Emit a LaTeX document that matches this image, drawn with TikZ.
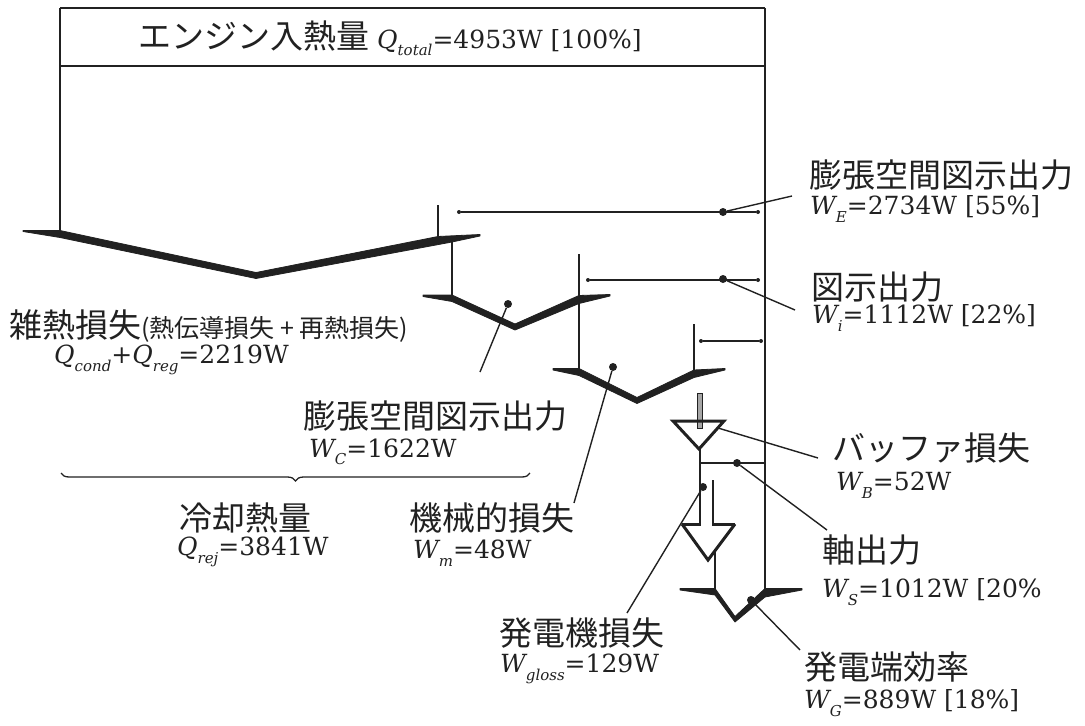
\documentclass[tikz,border=0pt]{standalone}
\usepackage{fontspec}
\newfontfamily\jpf{Noto Sans CJK JP}
\newfontfamily\numf{DejaVu Serif}
\newcommand\vv[2]{{\itshape #1}\raisebox{-0.3em}{\fontsize{15}{15}\selectfont\itshape #2}}
\usetikzlibrary{decorations.pathreplacing}
\definecolor{ink}{gray}{0.13}
\tikzset{
  frame/.style={draw=ink, line width=2.6pt},
  flowline/.style={draw=ink, line width=2.4pt},
  dimline/.style={draw=ink, line width=1.4pt},
  lead/.style={draw=ink, line width=1.4pt},
  wing/.style={fill=ink, draw=ink, line width=0.8pt, line join=round},
  tri/.style={draw=ink, line width=3pt, line join=miter},
  dotn/.style={circle, fill=ink, inner sep=0pt, minimum size=8pt},
  enddot/.style={circle, fill=ink, inner sep=0pt, minimum size=4pt},
  jbig/.style={font=\jpf\fontsize{33}{35}\selectfont, inner sep=0pt, anchor=west, text=ink},
  val/.style={font=\numf\fontsize{25}{27}\selectfont, inner sep=0pt, anchor=west, text=ink},
}
\begin{document}
\begin{tikzpicture}[x=1pt,y=-1pt]
\useasboundingbox (0,0) rectangle (1085,726);
% ---- key coordinates ----
\coordinate (TL) at (60,8);
\coordinate (TR) at (765,8);
\coordinate (ML) at (60,66);
\coordinate (MR) at (765,66);
\coordinate (LB) at (60,232);
\coordinate (RB) at (765,590);
% ---- top band ----
\draw[frame] (TL) -- (TR);
\draw[dimline, line width=2pt] (ML) -- (MR);
\draw[flowline] (TL) -- (LB);
\draw[flowline] (TR) -- (RB);
\node[font=\numf\fontsize{25}{27}\selectfont, text=ink, inner sep=0pt] (title) at (390,38)
  {{\jpf\fontsize{33}{35}\selectfont エンジン入熱量}\ \vv{Q}{total}=4953W [100\%]};
% ---- first split (V1) ----
\fill[wing] (23,230.5) -- (60,230.5) -- (256,272.5) -- (438,236.5) -- (480,234.5)
  -- (480,236) -- (452,242) -- (256,278.5) -- (60,237.5) -- (23,231.5) -- cycle;
\coordinate (s1a) at (438,205); \coordinate (s1b) at (438,237);
\draw[flowline] (s1a) -- (s1b);
\coordinate (v2a) at (452,240); \coordinate (v2b) at (452,297);
\draw[flowline] (v2a) -- (v2b);
% ---- second split (V2) ----
\fill[wing] (423,295) -- (452,295) -- (515,324) -- (579,295.5) -- (610,294.5)
  -- (610,296) -- (579,303.5) -- (515,330) -- (452,301.5) -- (423,296.5) -- cycle;
\coordinate (s2a) at (579,254); \coordinate (s2b) at (579,370);
\draw[flowline] (s2a) -- (s2b);
% ---- third split (V3) ----
\fill[wing] (553,368.5) -- (579,368.5) -- (637,397.5) -- (694,370) -- (725,368.5)
  -- (725,370) -- (694,377.5) -- (637,403.5) -- (579,375.5) -- (553,370) -- cycle;
\coordinate (s3a) at (694,324); \coordinate (s3b) at (694,371);
\draw[flowline] (s3a) -- (s3b);
% ---- buffer loss ----
\filldraw[fill=gray!70, draw=ink, line width=1pt] (697.5,393) rectangle (702.5,428);
\draw[tri] (673,421) -- (724,421) -- (699,449) -- cycle;
\coordinate (bt) at (718,428);
\coordinate (v4a) at (700,449); \coordinate (v4b) at (700,525);
\draw[flowline] (v4a) -- (v4b);
% ---- generator loss ----
\coordinate (s4a) at (713,480); \coordinate (s4b) at (713,524);
\draw[flowline] (s4a) -- (s4b);
\draw[tri] (682,524) -- (701,524);
\draw[tri] (712,524) -- (735,524);
\draw[tri] (682,524) -- (708,560) -- (735,524);
\coordinate (v5a) at (715,552); \coordinate (v5b) at (715,590);
\draw[flowline] (v5a) -- (v5b);
% ---- final arrow ----
\fill[wing] (680,588.5) -- (715,588.5) -- (735,616.5) -- (765,588.5) -- (802,588.5)
  -- (802,590) -- (765,597) -- (735,622) -- (715,595) -- (680,590) -- cycle;
% ---- dimension lines ----
\node[enddot] (h1a) at (459,212) {}; \node[enddot] (h1b) at (758,212) {};
\draw[dimline] (h1a) -- (h1b);
\node[enddot] (h2a) at (588,280) {}; \node[enddot] (h2b) at (758,280) {};
\draw[dimline] (h2a) -- (h2b);
\node[enddot] (h3a) at (701,341) {}; \node[enddot] (h3b) at (761,341) {};
\draw[dimline] (h3a) -- (h3b);
\coordinate (h4a) at (700,463); \coordinate (h4b) at (765,463);
\draw[dimline] (h4a) -- (h4b);
% ---- dots ----
\node[dotn] (dE) at (723,212) {};
\node[dotn] (dI) at (723,279) {};
\node[dotn] (dS) at (737,463) {};
\node[dotn] (dG) at (751,600) {};
\node[dotn] (dGl) at (703,487) {};
\node[dotn] (dM) at (613,367) {};
\node[dotn] (dC) at (508,304) {};
% ---- leader ends ----
\coordinate (eE) at (792,196);
\coordinate (eI) at (795,310);
\coordinate (eB) at (818,458);
\coordinate (eS) at (827,530);
\coordinate (eG) at (800,650);
\coordinate (eGl) at (627,613);
\coordinate (eM) at (574,503);
\coordinate (eC) at (480,372);
\draw[lead] (dE) -- (eE);
\draw[lead] (dI) -- (eI);
\draw[lead] (bt) -- (eB);
\draw[lead] (dS) -- (eS);
\draw[lead] (dG) -- (eG);
\draw[lead] (dGl) -- (eGl);
\draw[lead] (dM) -- (eM);
\draw[lead] (dC) -- (eC);
% ---- brace ----
\coordinate (brL) at (61,473);
\coordinate (brR) at (530,473);
\draw[draw=ink, line width=1.3pt, decorate, decoration={brace, mirror, amplitude=8pt}] (brL) -- (brR);
% ---- labels right ----
\node[jbig] (tE) at (809,175) {膨張空間図示出力};
\node[val] (vE) at (810,209) {\vv{W}{E}=2734W [55\%]};
\node[jbig] (tI) at (811,287) {図示出力};
\node[val] (vI) at (812,318) {\vv{W}{i}=1112W [22\%]};
\node[jbig] (tB) at (832,448) {バッファ損失};
\node[val] (vB) at (836,485) {\vv{W}{B}=52W};
\node[jbig] (tS) at (822,550) {軸出力};
\node[val] (vS) at (822,592) {\vv{W}{S}=1012W [20\%};
\node[jbig] (tG) at (804,667) {発電端効率};
\node[val] (vG) at (804,703) {\vv{W}{G}=889W [18\%]};
% ---- labels left ----
\node[jbig] (tL) at (9,326) {雑熱損失{\fontsize{25}{27}\selectfont (熱伝導損失 + 再熱損失)}};
\node[val] (vL) at (54,360) {\vv{Q}{cond}+\vv{Q}{reg}=2219W};
\node[jbig] (tC) at (303,416) {膨張空間図示出力};
\node[val] (vC) at (309,452) {\vv{W}{C}=1622W};
\node[jbig] (tR) at (179,518) {冷却熱量};
\node[val] (vR) at (177,552) {\vv{Q}{rej}=3841W};
\node[jbig] (tM) at (409,518) {機械的損失};
\node[val] (vM) at (413,553) {\vv{W}{m}=48W};
\node[jbig] (tGl) at (499,633) {発電機損失};
\node[val] (vGl) at (500,669) {\vv{W}{gloss}=129W};
\end{tikzpicture}
\end{document}
